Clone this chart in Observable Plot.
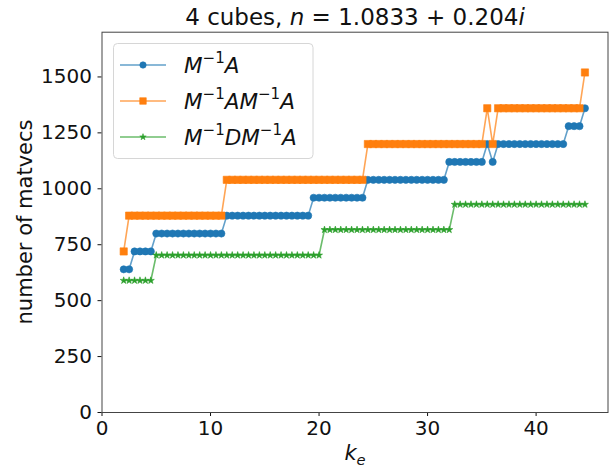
<!DOCTYPE html>
<html><head><meta charset="utf-8">
<script src="https://cdn.jsdelivr.net/npm/d3@7"></script>
<script src="https://cdn.jsdelivr.net/npm/@observablehq/plot@0.6"></script>
<style>body{margin:0;background:#fff}</style>
</head><body><div id="chart"></div>
<script>
// ---- data ----
const ke = [2,2.5,3,3.5,4,4.5,5,5.5,6,6.5,7,7.5,8,8.5,9,9.5,10,10.5,11,11.5,12,12.5,13,13.5,14,14.5,15,15.5,16,16.5,17,17.5,18,18.5,19,19.5,20,20.5,21,21.5,22,22.5,23,23.5,24,24.5,25,25.5,26,26.5,27,27.5,28,28.5,29,29.5,30,30.5,31,31.5,32,32.5,33,33.5,34,34.5,35,35.5,36,36.5,37,37.5,38,38.5,39,39.5,40,40.5,41,41.5,42,42.5,43,43.5,44,44.5];
const seriesMA = [640,640,
  720,720,720,720,
  800,800,800,800,800,800,800,800,800,800,800,800,800,
  880,880,880,880,880,880,880,880,880,880,880,880,880,880,880,880,
  960,960,960,960,960,960,960,960,960,960,
  1040,1040,1040,1040,1040,1040,1040,1040,1040,1040,1040,1040,1040,1040,1040,
  1120,1120,1120,1120,1120,1120,1120,
  1200,1120,
  1200,1200,1200,1200,1200,1200,1200,1200,1200,1200,1200,1200,1200,
  1280,1280,1280,
  1360];
const seriesMAMA = [720,
  880,880,880,880,880,880,880,880,880,880,880,880,880,880,880,880,880,880,
  1040,1040,1040,1040,1040,1040,1040,1040,1040,1040,1040,1040,1040,1040,1040,1040,1040,1040,1040,1040,1040,1040,1040,1040,1040,1040,
  1200,1200,1200,1200,1200,1200,1200,1200,1200,1200,1200,1200,1200,1200,1200,1200,1200,1200,1200,1200,1200,1200,
  1360,1200,
  1360,1360,1360,1360,1360,1360,1360,1360,1360,1360,1360,1360,1360,1360,1360,1360,
  1520];
const seriesMDMA = [590,590,590,590,590,590,
  703,703,703,703,703,703,703,703,703,703,703,703,703,703,703,703,703,703,703,703,703,703,703,703,703,703,703,703,703,703,703,
  817,817,817,817,817,817,817,817,817,817,817,817,817,817,817,817,817,817,817,817,817,817,817,817,
  930,930,930,930,930,930,930,930,930,930,930,930,930,930,930,930,930,930,930,930,930,930,930,930,930];
const seriesKeys = ["MA","MAMA","MDMA"];
const xTicks = [0,10,20,30,40];
const yTicks = [0,250,500,750,1000,1250,1500];

// ---- styling ----
const colors = {MA:"#1f77b4", MAMA:"#ff7f0e", MDMA:"#2ca02c"};
const symbols = {MA:"circle", MAMA:"square", MDMA:"star"};
const radii = {MA:3.6, MAMA:4.1, MDMA:2.2};
const seriesValues = {MA: seriesMA, MAMA: seriesMAMA, MDMA: seriesMDMA};

const rows = [];
seriesKeys.forEach(k => ke.forEach((x, i) => rows.push({ke: x, v: seriesValues[k][i], s: k})));

const marks = [];
seriesKeys.forEach(k => {
  const d = rows.filter(r => r.s === k);
  marks.push(Plot.line(d, {x: "ke", y: "v", stroke: colors[k], strokeWidth: 1.6, strokeOpacity: 0.7}));
  marks.push(Plot.dot(d, {x: "ke", y: "v", symbol: symbols[k], fill: colors[k], stroke: colors[k], strokeWidth: 0.6, r: radii[k]}));
});

const chart = Plot.plot({
  width: 612, height: 476,
  marginLeft: 101.5, marginRight: 4.5, marginTop: 31.7, marginBottom: 64,
  style: {fontFamily: "DejaVu Sans", fontSize: "20px", color: "#111", background: "#fff", overflow: "visible"},
  x: {domain: [0, 46.625]},
  y: {domain: [0, 1700]},
  marks: [
    Plot.axisX({ticks: xTicks, tickSize: 4, tickPadding: 4, label: null, fontSize: 20, tickFormat: d => String(d)}),
    Plot.axisY({ticks: yTicks, tickSize: 4, tickPadding: 6, label: null, fontSize: 20, tickFormat: d => String(d)}),
    ...marks,
    Plot.frame({stroke: "#444", strokeWidth: 1})
  ]
});
document.getElementById("chart").appendChild(chart);

// ---- rich text helper ----
function rich(sel, parts, fs) {
  let shift = 0;
  parts.forEach(p => {
    const size = (p.sup || p.sub) ? fs * 0.7 : fs;
    const target = p.sup ? -fs * 0.42 : p.sub ? fs * 0.22 : 0;
    sel.append("tspan")
      .attr("font-size", size)
      .attr("font-style", p.it ? "italic" : "normal")
      .attr("dy", target - shift)
      .text(p.t);
    shift = target;
  });
}

const svg = d3.select(chart);
const ff = "DejaVu Sans";

// title
rich(svg.append("text").attr("x", 355).attr("y", 25).attr("text-anchor", "middle")
  .attr("font-family", ff).attr("fill", "#111"),
  [{t: "4 cubes, "}, {t: "n", it: true}, {t: " = 1.0833 + 0.204"}, {t: "i", it: true}], 23);

// x label
rich(svg.append("text").attr("x", 355).attr("y", 460).attr("text-anchor", "middle")
  .attr("font-family", ff).attr("fill", "#111"),
  [{t: "k", it: true}, {t: "e", it: true, sub: true}], 21);

// y label
svg.append("text").attr("transform", "translate(32,222) rotate(-90)").attr("text-anchor", "middle")
  .attr("font-family", ff).attr("font-size", 21).attr("fill", "#111").text("number of matvecs");

// legend
const lg = svg.append("g").attr("text-anchor", "start");
lg.append("rect").attr("x", 113.5).attr("y", 43.5).attr("width", 199.5).attr("height", 115)
  .attr("rx", 4).attr("fill", "#fff").attr("fill-opacity", 0.85).attr("stroke", "#d6d6d6");
const labels = {
  MA: [{t: "M", it: true}, {t: "\u22121", sup: true}, {t: "A", it: true}],
  MAMA: [{t: "M", it: true}, {t: "\u22121", sup: true}, {t: "AM", it: true}, {t: "\u22121", sup: true}, {t: "A", it: true}],
  MDMA: [{t: "M", it: true}, {t: "\u22121", sup: true}, {t: "DM", it: true}, {t: "\u22121", sup: true}, {t: "A", it: true}]
};
const symMap = {circle: d3.symbolCircle, square: d3.symbolSquare, star: d3.symbolStar};
const legendR = {MA: 3.2, MAMA: 3.7, MDMA: 2.0};
seriesKeys.forEach((k, i) => {
  const y = 65 + i * 36;
  lg.append("line").attr("x1", 120).attr("x2", 166).attr("y1", y).attr("y2", y)
    .attr("stroke", colors[k]).attr("stroke-width", 1.6).attr("stroke-opacity", 0.7);
  lg.append("path").attr("transform", `translate(143,${y})`)
    .attr("d", d3.symbol(symMap[symbols[k]], Math.PI * legendR[k] * legendR[k])())
    .attr("fill", colors[k]).attr("stroke", colors[k]).attr("stroke-width", 0.6);
  rich(lg.append("text").attr("x", 184).attr("y", y + 7.5).attr("text-anchor", "start")
    .attr("font-family", ff).attr("fill", "#111"),
    labels[k], 21.5);
});
</script></body></html>
